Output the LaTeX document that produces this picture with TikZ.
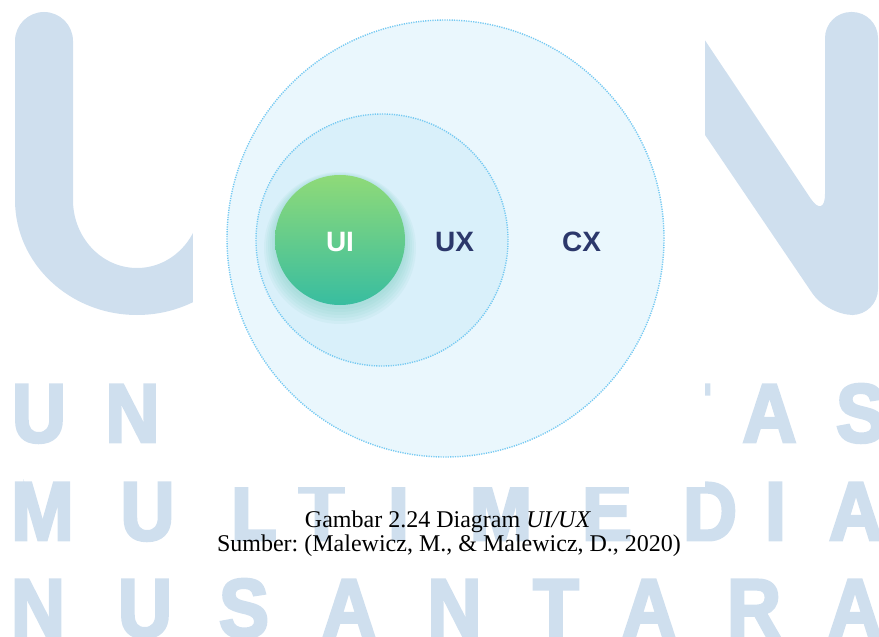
\documentclass[tikz,border=0pt]{standalone}
\usepackage{fontspec}
\setmainfont{Liberation Serif}
\newfontfamily\lblfont{Liberation Sans}
\newfontfamily\wmfont{Liberation Sans Bold}[FakeBold=3.5, FakeStretch=0.9]
\definecolor{wmblue}{HTML}{CFDFEE}
\definecolor{cxfill}{HTML}{EAF7FD}
\definecolor{uxfill}{HTML}{D9F0FA}
\definecolor{ringline}{HTML}{74C9F2}
\definecolor{uitop}{HTML}{8FDA78}
\definecolor{uibot}{HTML}{38BDA0}
\definecolor{glow}{HTML}{5EC4B0}
\definecolor{navy}{HTML}{2C386B}
\frenchspacing

\begin{document}
\begin{tikzpicture}[x=1bp, y=-1bp,
	ring/.style = {draw=ringline, circle, inner sep=0pt, line width=1.4bp, dash pattern=on 1.2bp off 1.2bp},
	tag/.style = {font=\lblfont\bfseries\fontsize{28bp}{30bp}\selectfont, inner sep=0pt},
	wm/.style = {text=wmblue, font=\wmfont\fontsize{83bp}{83bp}\selectfont, anchor=base, inner sep=0pt},
	caption/.style = {anchor=base, inner sep=0pt, font=\fontsize{24bp}{28bp}\selectfont}]
	\useasboundingbox (0,0) rectangle (879,637);
	\clip (0,0) rectangle (879,637);

	% watermark behind the figure
	\fill[wmblue] (15,41) arc[start angle=180, end angle=360, radius=29] -- (73,200)
		arc[start angle=180, end angle=0, x radius=64, y radius=68] -- (201,100) -- (260,100) -- (259,200)
		arc[start angle=0, end angle=180, x radius=122, y radius=115] -- cycle;
	\fill[wmblue, rounded corners=26bp] (638,-60) -- (825,220) -- (825,12) -- (878,12) -- (878,315) -- (827,315) -- (600,-20) -- cycle;

	\node[wm] (w1) at (39,442) {U};
	\node[wm] (w2) at (132.5,442) {N};
	\node[wm] (w3) at (687,442) {T};
	\node[wm] (w4) at (769.5,442) {A};
	\node[wm] (w5) at (861,442) {S};

	\node[wm] (m1) at (42.5,540) {M};
	\node[wm] (m2) at (147.5,540) {U};
	\node[wm] (m3) at (254,540) {L};
	\node[wm] (m4) at (321.5,540) {T};
	\node[wm] (m5) at (398.5,540) {I};
	\node[wm] (m6) at (501,540) {M};
	\node[wm] (m7) at (607,540) {E};
	\node[wm] (m8) at (710,540) {D};
	\node[wm] (m9) at (775.5,540) {I};
	\node[wm] (m10) at (856,540) {A};

	\node[wm] (n1) at (38,637) {N};
	\node[wm] (n2) at (145,637) {U};
	\node[wm] (n3) at (244,637) {S};
	\node[wm] (n4) at (349,637) {A};
	\node[wm] (n5) at (454.5,637) {N};
	\node[wm] (n6) at (556,637) {T};
	\node[wm] (n7) at (649,637) {A};
	\node[wm] (n8) at (754,637) {R};
	\node[wm] (n9) at (855,637) {A};

	\fill[white] (193,0) rectangle (705,487);

	% the three circles
	\node[ring, fill=cxfill, minimum size=437bp] (cx) at (445.5,238.5) {};
	\node[ring, fill=uxfill, minimum size=252bp] (ux) at (382,240) {};
	\foreach \r/\dy in {76/14, 74/13, 72/12, 70/11, 68/10, 66/9}
		\fill[glow, opacity=0.07] (340,240+\dy-6) circle (\r);
	\node[circle, inner sep=0pt, minimum size=130bp, top color=uitop, bottom color=uibot] (ui) at (340,240) {};

	\node[tag, text=white] (uitxt) at (340,242) {UI};
	\node[tag, text=navy] (uxtxt) at (454.5,242) {UX};
	\node[tag, text=navy] (cxtxt) at (581.5,242) {CX};

	% caption
	\node[caption] (cap1) at (448,527) {Gambar 2.24 Diagram \textit{UI/UX}};
	\node[caption] (cap2) at (449,551) {Sumber: (Malewicz, M., \& Malewicz, D., 2020)};
\end{tikzpicture}
\end{document}
